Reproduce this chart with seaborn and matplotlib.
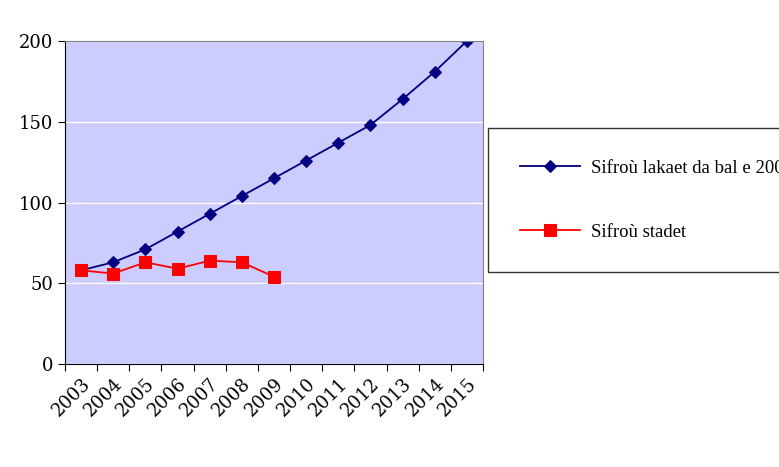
import numpy as np
import pandas as pd
import matplotlib.pyplot as plt
import seaborn as sns

# data
years = ['2003', '2004', '2005', '2006', '2007', '2008', '2009',
         '2010', '2011', '2012', '2013', '2014', '2015']
forecast = [58, 63, 71, 82, 93, 104, 115, 126, 137, 148, 164, 181, 200]
actual = [58, 56, 63, 59, 64, 63, 54]
name_forecast = 'Sifroù lakaet da bal e 2003'
name_actual = 'Sifroù stadet'

df_f = pd.DataFrame({'x': np.arange(len(forecast)), 'y': forecast})
df_a = pd.DataFrame({'x': np.arange(len(actual)), 'y': actual})

plt.rcParams['font.family'] = 'DejaVu Serif'
fig = plt.figure(figsize=(7.79, 4.67), dpi=100)
ax = fig.add_axes([65 / 779, 1 - 364 / 467, 418 / 779, 323 / 467])
ax.set_facecolor('#CCCCFF')

sns.lineplot(data=df_f, x='x', y='y', ax=ax, color='#000080', marker='D',
             markersize=6, markeredgecolor='#000080', linewidth=1.3,
             label=name_forecast)
sns.lineplot(data=df_a, x='x', y='y', ax=ax, color='#FF0000', marker='s',
             markersize=8, markeredgecolor='#FF0000', linewidth=1.3,
             label=name_actual)

ax.set_xlim(-0.5, len(years) - 0.5)
ax.set_ylim(0, 200)
ax.set_yticks([0, 50, 100, 150, 200])
ax.yaxis.grid(True, color='white', linewidth=1)
ax.set_axisbelow(True)
ax.set_xticks(np.arange(len(years) + 1) - 0.5)
ax.set_xticklabels([])
ax.set_xticks(np.arange(len(years)), minor=True)
ax.set_xticklabels(years, minor=True, rotation=45, ha='right',
                   rotation_mode='anchor', fontsize=13)
ax.tick_params(axis='x', which='minor', length=0, pad=8)
ax.tick_params(axis='x', which='major', length=5, direction='out')
ax.tick_params(axis='y', labelsize=13, length=5)
for s in ax.spines.values():
    s.set_color('#808080')
ax.spines['left'].set_color('black')
ax.spines['bottom'].set_color('black')
ax.set_xlabel('')
ax.set_ylabel('')

leg = ax.legend(loc='center left', bbox_to_anchor=(488 / 779, 1 - 200 / 467),
                bbox_transform=fig.transFigure,
                prop={'family': 'Liberation Serif', 'size': 13.5},
                frameon=True, fancybox=False, edgecolor='black',
                borderpad=1.7, borderaxespad=0, labelspacing=2.5,
                handlelength=3.2, handletextpad=0.6)
leg.get_frame().set_linewidth(1)

fig.savefig('out.png', dpi=100)
